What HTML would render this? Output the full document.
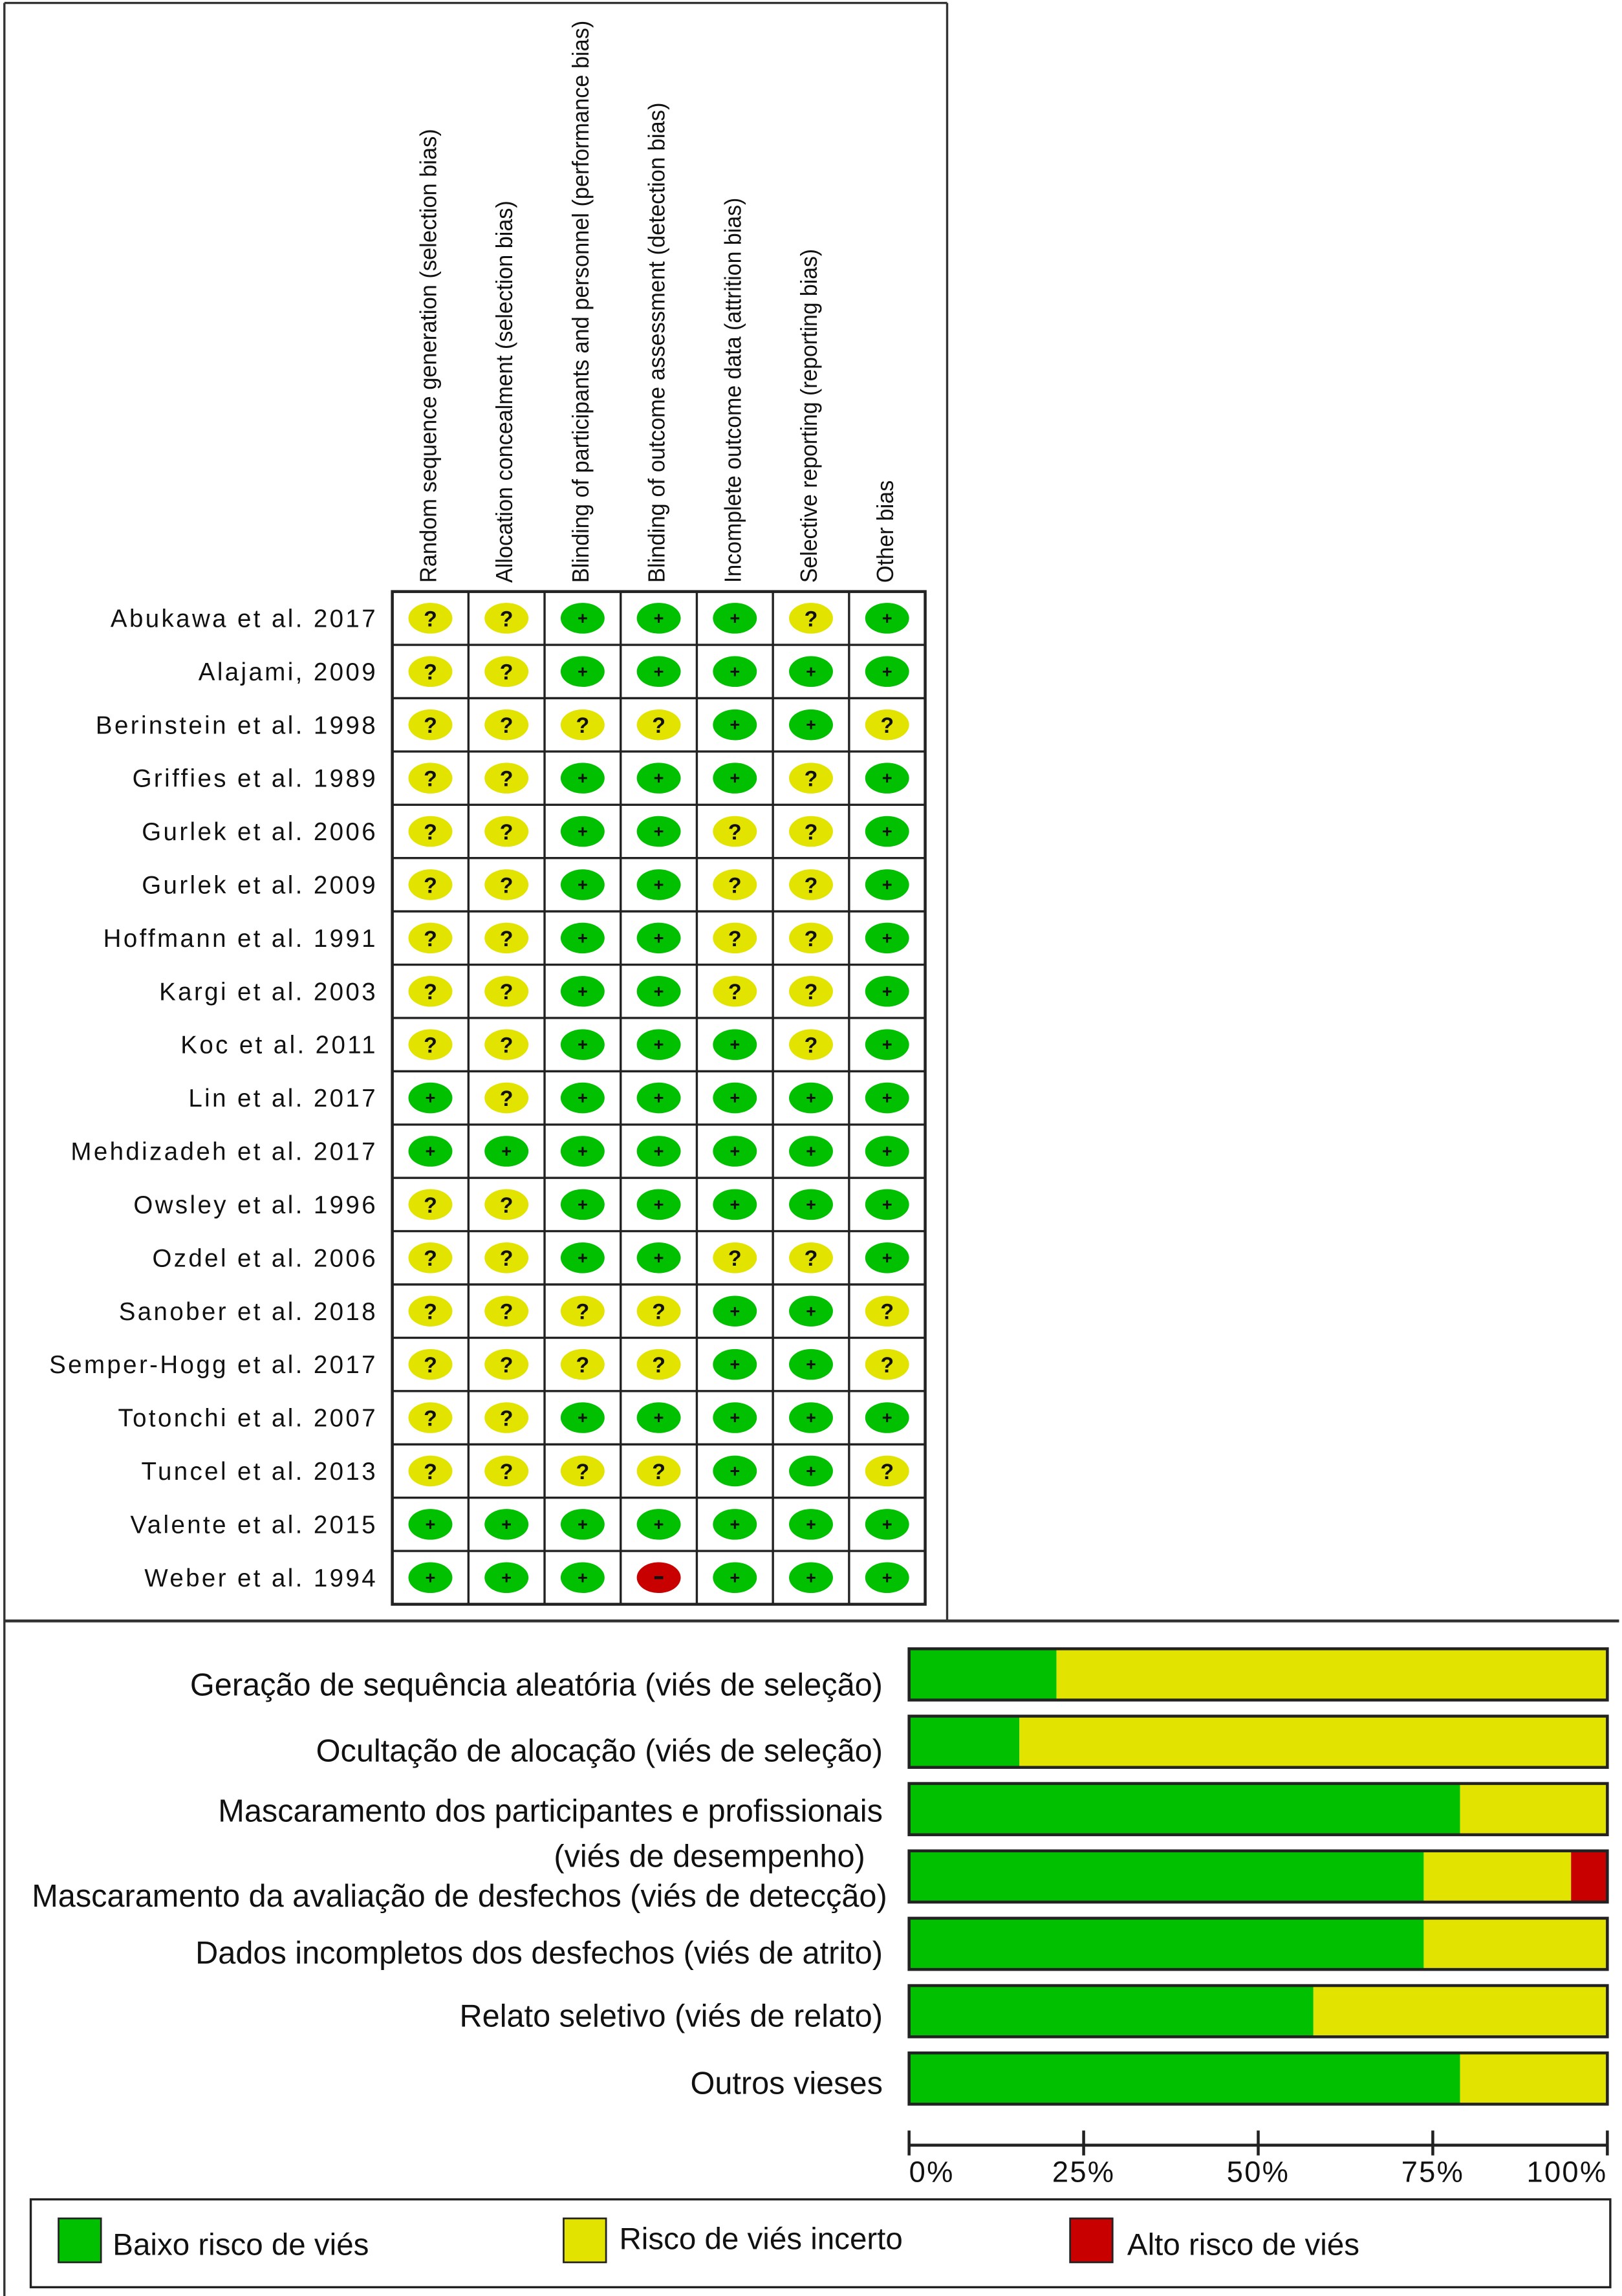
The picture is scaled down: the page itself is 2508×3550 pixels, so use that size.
<!DOCTYPE html>
<html><head><meta charset="utf-8">
<style>
html,body{margin:0;padding:0;background:#fff;}
svg{display:block;}
text{font-family:"Liberation Sans",Arial,sans-serif;fill:#111;}
</style></head>
<body>
<svg id="chart" width="2508" height="3550" viewBox="0 0 1108 1568" preserveAspectRatio="none" xmlns="http://www.w3.org/2000/svg">
  <rect x="0" y="0" width="1108" height="1568" fill="#fff"/>
  <g id="frame">
    <line x1="3" y1="2" x2="647" y2="2" stroke="#333" stroke-width="1.5"/>
    <line x1="3" y1="2" x2="3" y2="1568" stroke="#333" stroke-width="1.5"/>
    <line x1="647" y1="2" x2="647" y2="1107" stroke="#333" stroke-width="1.5"/>
    <line x1="3" y1="1107" x2="1106" y2="1107" stroke="#333" stroke-width="2"/>
  </g>
  <g id="headers"></g>
  <g id="studyLabels"></g>
  <g id="grid"></g>
  <g id="barLabels"></g>
  <g id="bars"></g>
  <g id="axis"></g>
  <g id="legend">
    <rect x="21" y="1502" width="1079" height="60" fill="none" stroke="#222" stroke-width="1.5"/>
    <rect x="40" y="1515" width="29" height="30" fill="#00c000" stroke="#222" stroke-width="1.2"/>
    <text x="77" y="1540" font-size="21">Baixo risco de viés</text>
    <rect x="385" y="1515" width="29" height="30" fill="#e3e300" stroke="#222" stroke-width="1.2"/>
    <text x="423" y="1536" font-size="21">Risco de viés incerto</text>
    <rect x="731" y="1515" width="29" height="30" fill="#c80000" stroke="#222" stroke-width="1.2"/>
    <text x="770" y="1540" font-size="21">Alto risco de viés</text>
  </g>
</svg>
<script>
const domains = ["Random sequence generation (selection bias)","Allocation concealment (selection bias)","Blinding of participants and personnel (performance bias)","Blinding of outcome assessment (detection bias)","Incomplete outcome data (attrition bias)","Selective reporting (reporting bias)","Other bias"];
const studies = ["Abukawa et al. 2017","Alajami, 2009","Berinstein et al. 1998","Griffies et al. 1989","Gurlek et al. 2006","Gurlek et al. 2009","Hoffmann et al. 1991","Kargi et al. 2003","Koc et al. 2011","Lin et al. 2017","Mehdizadeh et al. 2017","Owsley et al. 1996","Ozdel et al. 2006","Sanober et al. 2018","Semper-Hogg et al. 2017","Totonchi et al. 2007","Tuncel et al. 2013","Valente et al. 2015","Weber et al. 1994"];
const judgements = ["??+++?+","??+++++","????++?","??+++?+","??++??+","??++??+","??++??+","??++??+","??+++?+","+?+++++","+++++++","??+++++","??++??+","????++?","????++?","??+++++","????++?","+++++++","+++-+++"];
const barCategories = ["Geração de sequência aleatória (viés de seleção)","Ocultação de alocação (viés de seleção)","Mascaramento dos participantes e profissionais","Mascaramento da avaliação de desfechos (viés de detecção)","Dados incompletos dos desfechos (viés de atrito)","Relato seletivo (viés de relato)","Outros vieses"];
const lowPct = [21.1,15.8,78.9,73.7,73.7,57.9,78.9];
const unclearPct = [78.9,84.2,21.1,21.1,26.3,42.1,21.1];
const highPct = [0,0,0,5.2,0,0,0];
const tickValues = [0,25,50,75,100];
const tickLabels = ["0%","25%","50%","75%","100%"];

const NS="http://www.w3.org/2000/svg";
function mk(tag,attrs,parent,txt){const e=document.createElementNS(NS,tag);for(const k in attrs)e.setAttribute(k,attrs[k]);if(txt!==undefined)e.textContent=txt;parent.appendChild(e);return e;}
const GX0=268,CW=52,GY0=404,RH=36.4;
const colX=i=>GX0+i*CW;
const rowY=j=>GY0+j*RH;
const hdrLen=[310,261,384,328,263,228,70];
const H=document.getElementById('headers');
domains.forEach((d,i)=>{
  const cx=colX(i)+CW/2+4;
  const t=mk('text',{x:cx,y:398,'font-size':16,transform:`rotate(-90 ${cx} 398)`,textLength:hdrLen[i],lengthAdjust:'spacingAndGlyphs'},H,d);
  
  
});
const L=document.getElementById('studyLabels');
studies.forEach((s,j)=>{
  const t=mk('text',{x:258,y:rowY(j)+RH/2+6,'font-size':17,'text-anchor':'end','letter-spacing':'1.5'},L,s);
  
  
});
const G=document.getElementById('grid');
const nR=studies.length,nC=domains.length;
mk('rect',{x:GX0,y:GY0,width:nC*CW,height:nR*RH,fill:'#fff',stroke:'#222','stroke-width':2},G);
for(let i=1;i<nC;i++)mk('line',{x1:colX(i),y1:GY0,x2:colX(i),y2:GY0+nR*RH,stroke:'#222','stroke-width':1.5},G);
for(let j=1;j<nR;j++)mk('line',{x1:GX0,y1:rowY(j),x2:GX0+nC*CW,y2:rowY(j),stroke:'#222','stroke-width':1.5},G);
const colors={'+':'#00c000','?':'#e3e300','-':'#c80000'};
judgements.forEach((row,j)=>{
  row.split('').forEach((c,i)=>{
    const cx=colX(i)+CW/2, cy=rowY(j)+RH/2;
    const g=mk('g',{},G);
    
    
    mk('ellipse',{cx:cx,cy:cy,rx:15,ry:10.5,fill:colors[c]},g);
    if(c==='?')mk('text',{x:cx,y:cy+5.5,'font-size':15,'font-weight':'bold','text-anchor':'middle'},g,'?');
    else if(c==='+')mk('text',{x:cx,y:cy+4,'font-size':12,'font-weight':'bold','text-anchor':'middle'},g,'+');
    else mk('rect',{x:cx-3,y:cy-1,width:6,height:2,fill:'#111'},g);
  });
});
const BX0=621,BW=477,BY0=1126,BH=35,BS=46;
const xs=v=>BX0+v/100*BW;
const B=document.getElementById('bars'),BL=document.getElementById('barLabels');
barCategories.forEach((c,k)=>{
  const y=BY0+k*BS;
  const g=mk('g',{},B);
  
  
  mk('rect',{x:xs(0),y:y,width:xs(lowPct[k])-xs(0),height:BH,fill:'#00c000'},g);
  mk('rect',{x:xs(lowPct[k]),y:y,width:xs(lowPct[k]+unclearPct[k])-xs(lowPct[k]),height:BH,fill:'#e3e300'},g);
  if(highPct[k]>0)mk('rect',{x:xs(lowPct[k]+unclearPct[k]),y:y,width:xs(100)-xs(lowPct[k]+unclearPct[k]),height:BH,fill:'#c80000'},g);
  mk('rect',{x:BX0,y:y,width:BW,height:BH,fill:'none',stroke:'#222','stroke-width':2},g);
});
const labelYs=[1158,1203,1244,1302,1341,1384,1430];
barCategories.forEach((c,k)=>{
  const t=mk('text',{x:k===3?606:603,y:labelYs[k],'font-size':21.5,'text-anchor':'end'},BL,c);
  
  
});
const t2=mk('text',{x:591,y:1275,'font-size':21.5,'text-anchor':'end'},BL,'(viés de desempenho)');


const A=document.getElementById('axis');
mk('line',{x1:xs(0),y1:1465,x2:xs(100),y2:1465,stroke:'#222','stroke-width':2},A);
tickValues.forEach((v,i)=>{
  mk('line',{x1:xs(v),y1:1455,x2:xs(v),y2:1472,stroke:'#222','stroke-width':2},A);
  const anchor=i===0?'start':(i===tickValues.length-1?'end':'middle');
  const t=mk('text',{x:xs(v),y:1490,'font-size':20,'text-anchor':anchor,'letter-spacing':'1'},A,tickLabels[i]);
  
  
});
</script>
</body></html>
